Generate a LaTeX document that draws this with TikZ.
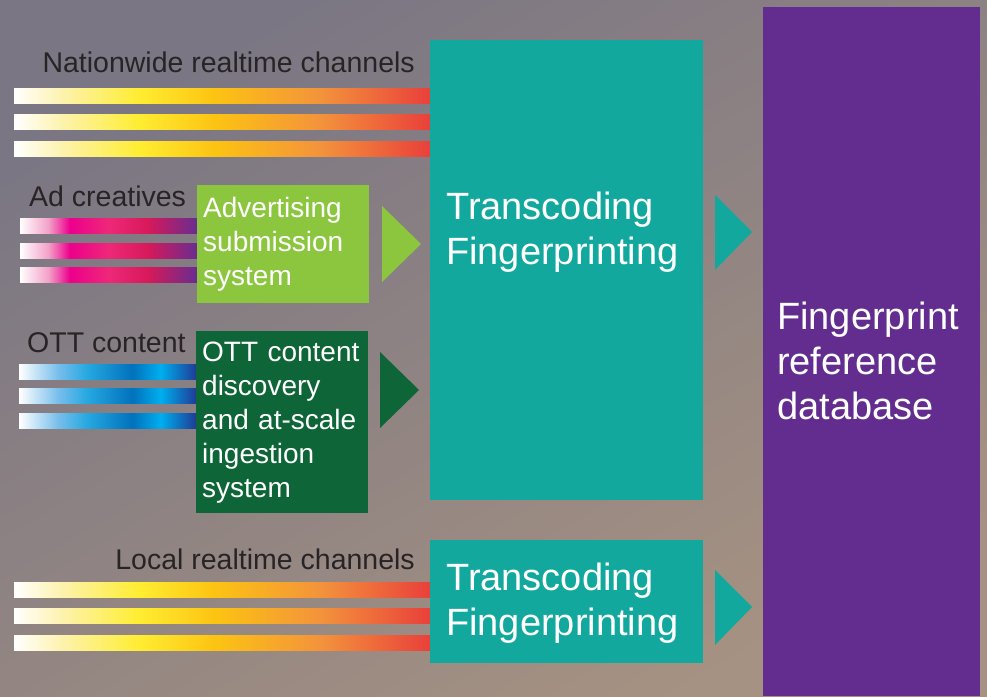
\documentclass[tikz,border=0pt]{standalone}
\usepackage{fontspec}
\setmainfont{Liberation Sans}
\usepackage{tikz}
\usepackage{xcolor}
\usetikzlibrary{positioning}
\hyphenpenalty=10000
\exhyphenpenalty=10000
\definecolor{fpteal}{RGB}{18, 168, 157}
\definecolor{fppurple}{RGB}{99, 45, 143}
\definecolor{adgreen}{RGB}{140, 198, 63}
\definecolor{ottgreen}{RGB}{14, 101, 55}
\definecolor{labeldark}{RGB}{40, 36, 38}
\definecolor{bgtop}{RGB}{122, 118, 131}
\definecolor{bgbottom}{RGB}{166, 146, 130}
% channel bar colours
\definecolor{warmpale}{RGB}{253, 242, 170}
\definecolor{warmyellow}{RGB}{255, 237, 50}
\definecolor{warmgold}{RGB}{252, 196, 18}
\definecolor{warmorange}{RGB}{243, 146, 60}
\definecolor{warmred}{RGB}{233, 64, 58}
\definecolor{adpink}{RGB}{243, 160, 200}
\definecolor{admagenta}{RGB}{236, 0, 140}
\definecolor{adrose}{RGB}{238, 40, 120}
\definecolor{adcrimson}{RGB}{215, 25, 90}
\definecolor{adviolet}{RGB}{102, 45, 145}
\definecolor{ottsky}{RGB}{120, 190, 235}
\definecolor{ottcyan}{RGB}{39, 169, 225}
\definecolor{ottblue}{RGB}{0, 114, 188}
\definecolor{ottbright}{RGB}{0, 174, 239}
\definecolor{ottnavy}{RGB}{30, 60, 150}
\pgfdeclarehorizontalshading{warmbar}{100bp}{color(0bp)=(white); color(25bp)=(white); color(31bp)=(warmpale); color(40bp)=(warmyellow); color(49bp)=(warmgold); color(62bp)=(warmorange); color(75bp)=(warmred); color(100bp)=(warmred)}
\pgfdeclarehorizontalshading{adbar}{100bp}{color(0bp)=(white); color(25bp)=(white); color(33bp)=(adpink); color(39bp)=(admagenta); color(50bp)=(adrose); color(61bp)=(adcrimson); color(75bp)=(adviolet); color(100bp)=(adviolet)}
\pgfdeclarehorizontalshading{ottbar}{100bp}{color(0bp)=(white); color(25bp)=(white); color(36bp)=(ottsky); color(44bp)=(ottcyan); color(57bp)=(ottblue); color(65bp)=(ottbright); color(75bp)=(ottnavy); color(100bp)=(ottnavy)}
\tikzset{
    box/.style={rectangle, inner sep=0pt, anchor=north west},
    tealbox/.style={box, fill=fpteal},
    dbbox/.style={box, fill=fppurple},
    sysbox/.style={box, text=white, inner xsep=6pt, text width=160pt, align=left, font=\fontsize{28}{34}\selectfont},
    boxtext/.style={text=white, inner sep=0pt, align=left, anchor=west, font=\fontsize{38}{45}\selectfont},
    inlabel/.style={text=labeldark, inner sep=0pt, font=\fontsize{28.5}{34}\selectfont}
}

\begin{document}
\begin{tikzpicture}[x=1pt, y=-1pt]
    \useasboundingbox (0,0) rectangle (987,696);
    \shade[top color=bgtop, bottom color=bgbottom, shading angle=30] (0,0) rectangle (987,696);

    % incoming channels
    \foreach \y in {88,114,141,582,608,635}
        \shade[shading=warmbar] (14,\y) rectangle (430,\y+15);
    \foreach \y in {218,243,267}
        \shade[shading=adbar] (20,\y) rectangle (198,\y+15);
    \foreach \y in {364,388,413}
        \shade[shading=ottbar] (19,\y) rectangle (196,\y+15);

    \node[inlabel, anchor=base east] (natlabel) at (415,72) {Nationwide realtime channels};
    \node[inlabel, anchor=base west] (adlabel) at (29,206) {Ad creatives};
    \node[inlabel, anchor=base west] (ottlabel) at (27,352) {OTT content};
    \node[inlabel, anchor=base east] (locallabel) at (415,569) {Local realtime channels};

    % systems
    \node[sysbox, fill=adgreen, minimum height=118pt] (adsys) at (197,185) {Advertising\\submission\\system};
    \node[sysbox, fill=ottgreen, minimum height=182pt] (ottsys) at (196,331)
        {OTT content\\discovery\\and at-scale\\ingestion\\system};

    \node[tealbox, minimum width=273pt, minimum height=460pt] (transtop) at (430,40) {};
    \node[tealbox, minimum width=273pt, minimum height=123pt] (translocal) at (430,540) {};
    \node[dbbox, minimum width=217pt, minimum height=689pt] (refdb) at (763,7) {};

    \node[boxtext] (transtoptext) at (446,232) {Transcoding\\Fingerprinting};
    \node[boxtext] (translocaltext) at (446,603) {Transcoding\\Fingerprinting};
    \node[boxtext] (refdbtext) at (777,361) {Fingerprint\\reference\\database};

    % pointers
    \fill[adgreen] (382,206) -- (421,244) -- (382,282) -- cycle;
    \fill[ottgreen] (380,352) -- (419,390) -- (380,428) -- cycle;
    \fill[fpteal] (715,195) -- (752,232) -- (715,270) -- cycle;
    \fill[fpteal] (715,570) -- (752,607) -- (715,645) -- cycle;
\end{tikzpicture}
\end{document}
